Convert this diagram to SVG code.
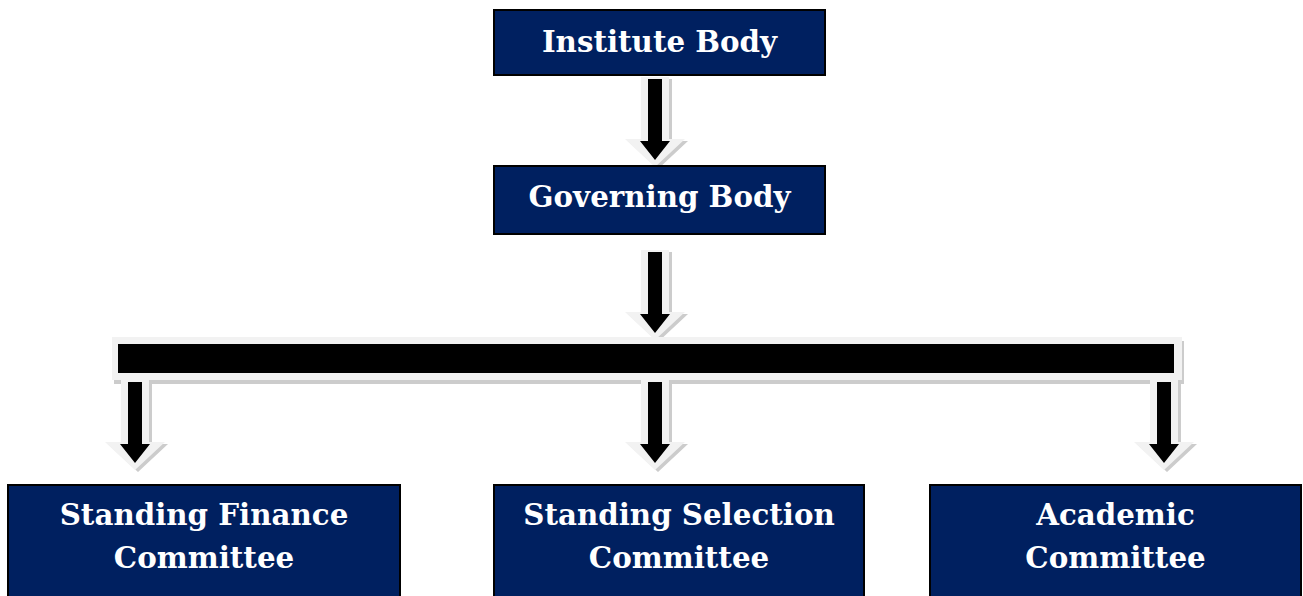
<svg xmlns="http://www.w3.org/2000/svg" xmlns:xlink="http://www.w3.org/1999/xlink" width="1303" height="596" viewBox="0 0 1303 596">
<style>
.box{fill:#002060;stroke:#000;stroke-width:2}
.lbl{font-family:"DejaVu Serif","Liberation Serif",serif;font-weight:bold;font-size:29.3px;fill:#fff;text-anchor:middle}
.sh{fill:#cccccc}
.halo{fill:#f2f2f2}
.core{fill:#000}
</style>
<defs>
<path id="arr" d="M-7,0 H7 V62 H15 L0,81 L-15,62 H-7 Z"/>
<path id="arrh" d="M-14,-2 H14 V60 H30 L0,88 L-30,60 H-14 Z"/>
<rect id="bar" x="118" y="344" width="1056" height="29"/>
<rect id="barh" x="112" y="337" width="1070" height="43"/>
</defs>
<rect width="1303" height="596" fill="#fff"/>
<g id="connectors">
<use xlink:href="#barh" class="sh" transform="translate(2,4)"/>
<g transform="translate(3,2)">
<use xlink:href="#arrh" class="sh" x="655" y="79"/>
<use xlink:href="#arrh" class="sh" x="655" y="252"/>
<use xlink:href="#arrh" class="sh" x="135" y="382"/>
<use xlink:href="#arrh" class="sh" x="655" y="382"/>
<use xlink:href="#arrh" class="sh" x="1164" y="382"/>
</g>
<use xlink:href="#barh" class="halo"/>
<use xlink:href="#arrh" class="halo" x="655" y="79"/>
<use xlink:href="#arrh" class="halo" x="655" y="252"/>
<use xlink:href="#arrh" class="halo" x="135" y="382"/>
<use xlink:href="#arrh" class="halo" x="655" y="382"/>
<use xlink:href="#arrh" class="halo" x="1164" y="382"/>
<use xlink:href="#bar" class="core"/>
<use xlink:href="#arr" class="core" x="655" y="79"/>
<use xlink:href="#arr" class="core" x="655" y="252"/>
<use xlink:href="#arr" class="core" x="135" y="382"/>
<use xlink:href="#arr" class="core" x="655" y="382"/>
<use xlink:href="#arr" class="core" x="1164" y="382"/>
</g>
<g id="institute-body">
<rect class="box" x="494" y="10" width="331" height="65"/>
<text class="lbl" x="659.5" y="52">Institute Body</text>
</g>
<g id="governing-body">
<rect class="box" x="494" y="166" width="331" height="68"/>
<text class="lbl" x="659.5" y="207">Governing Body</text>
</g>
<g id="standing-finance-committee">
<rect class="box" x="8" y="485" width="392" height="130"/>
<text class="lbl" x="204" y="525">Standing Finance</text>
<text class="lbl" x="204" y="568">Committee</text>
</g>
<g id="standing-selection-committee">
<rect class="box" x="494" y="485" width="370" height="130"/>
<text class="lbl" x="679" y="525">Standing Selection</text>
<text class="lbl" x="679" y="568">Committee</text>
</g>
<g id="academic-committee">
<rect class="box" x="930" y="485" width="371" height="130"/>
<text class="lbl" x="1115.5" y="525">Academic</text>
<text class="lbl" x="1115.5" y="568">Committee</text>
</g>
</svg>
